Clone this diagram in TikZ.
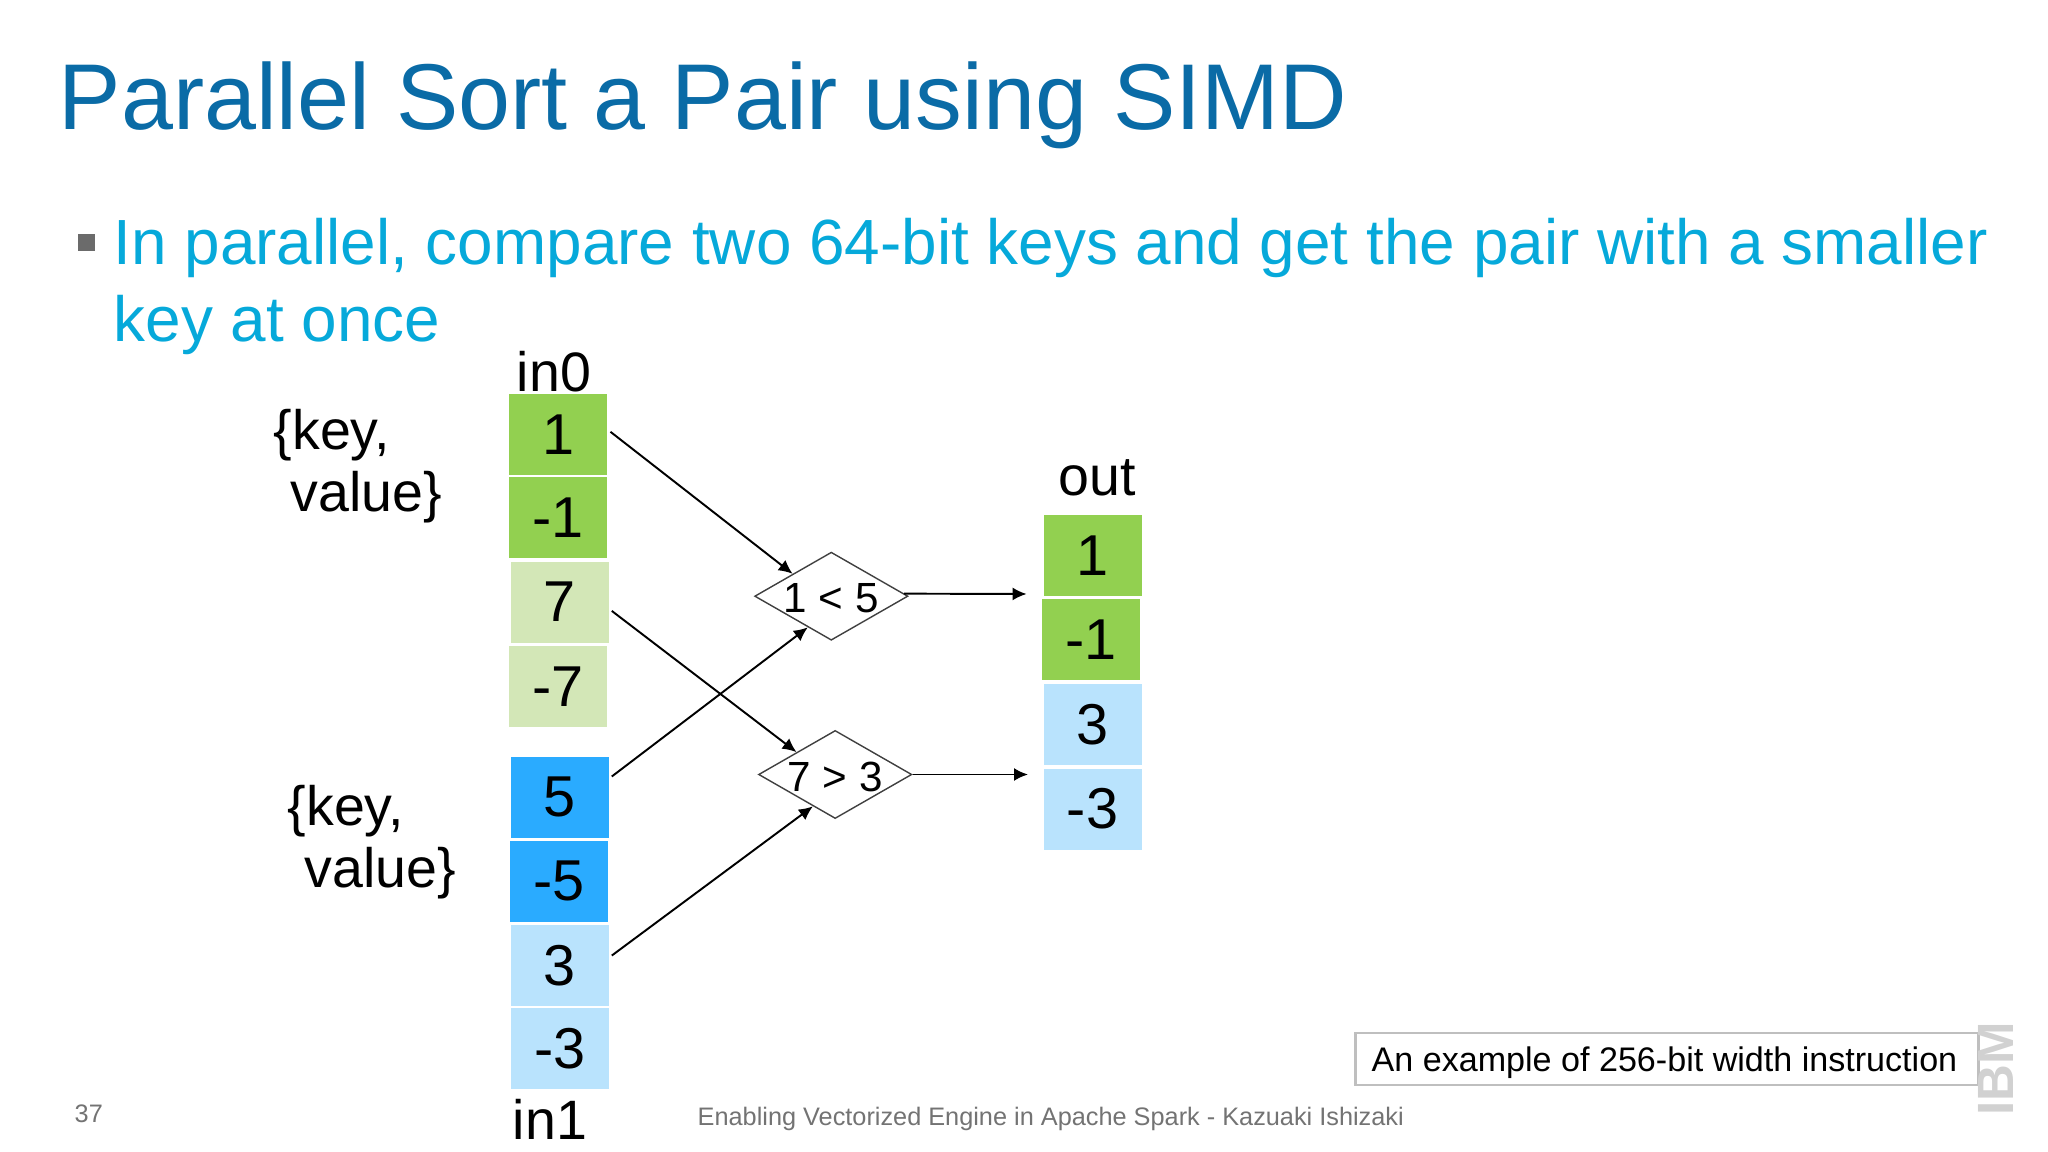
\documentclass[tikz,border=0pt]{standalone}
\usepackage{fontspec}
\setmainfont{Liberation Sans}
\usepackage{tikz}
\usetikzlibrary{arrows.meta,calc,positioning,shapes.geometric}
\definecolor{titleblue}{HTML}{0A6BA6}
\definecolor{bulletblue}{HTML}{06A9DA}
\definecolor{keygreen}{HTML}{92D050}
\definecolor{palegreen}{HTML}{D3E7B7}
\definecolor{keyblue}{HTML}{2AABFF}
\definecolor{paleblue}{HTML}{B9E3FD}

\begin{document}
\begin{tikzpicture}[
    x=1cm,
    y=1cm,
    cell/.style={minimum width=0.98cm, minimum height=0.81cm, inner sep=0pt, font=\fontsize{16.4}{18}\selectfont},
    cmp/.style={draw=black!75, shape=diamond, aspect=1.74, minimum width=1.53cm, minimum height=0.88cm, inner sep=0pt, text height=0.335cm, text depth=0cm, font=\fontsize{12}{14}\selectfont},
    lbl/.style={inner sep=0pt, font=\fontsize{15.8}{17.6}\selectfont},
    line/.style={-{Latex[length=1.4mm,width=1.3mm]}, line width=0.55pt}
]
\useasboundingbox (0,0) rectangle (20.48,-11.52);
\node[anchor=base west, inner sep=0pt, text=titleblue, font=\fontsize{26.6}{30}\selectfont] (title) at (0.58,-1.30) {Parallel Sort a Pair using SIMD};
\node[fill=black!58, minimum size=0.17cm, inner sep=0pt] (bullet) at (0.865,-2.43) {};
\node[anchor=base west, inner sep=0pt, align=left, text=bulletblue, font=\fontsize{18.17}{22}\selectfont] (point) at (1.13,-3.415) {In parallel, compare two 64-bit keys and get the pair with a smaller\\key at once};

\node[lbl] (in0) at (5.54,-3.72) {in0};
\node[lbl] (in1) at (5.50,-11.19) {in1};
\node[lbl] (out) at (10.97,-4.78) {out};
\node[lbl, anchor=west, align=left] (pair0) at (2.73,-4.66) {\{key,\\\hspace{0.17cm}value\}};
\node[lbl, anchor=west, align=left] (pair1) at (2.87,-8.42) {\{key,\\\hspace{0.17cm}value\}};

\node[cell, fill=keygreen] (in0a) at (5.584,-4.343) {1};
\node[cell, fill=keygreen] (in0b) at (5.584,-5.179) {-1};
\node[cell, fill=palegreen] (in0c) at (5.597,-6.021) {7};
\node[cell, fill=palegreen] (in0d) at (5.584,-6.864) {-7};
\node[cell, fill=keyblue] (in1a) at (5.597,-7.974) {5};
\node[cell, fill=keyblue] (in1b) at (5.59,-8.81) {-5};
\node[cell, fill=paleblue] (in1c) at (5.597,-9.652) {3};
\node[cell, fill=paleblue] (in1d) at (5.597,-10.488) {-3};

\node[cell, fill=keygreen] (outa) at (10.926,-5.557) {1};
\node[cell, fill=keygreen] (outb) at (10.912,-6.40) {-1};
\node[cell, fill=paleblue] (outc) at (10.926,-7.249) {3};
\node[cell, fill=paleblue] (outd) at (10.926,-8.091) {-3};

\node[cmp] (cmpa) at (8.313,-5.962) {1 < 5};
\node[cmp] (cmpb) at (8.352,-7.745) {7 > 3};
\coordinate (enda) at (10.266,-5.94);
\coordinate (endb) at (10.28,-7.745);

\draw[line, shorten <=0.03cm] (in0a.5) -- (cmpa.north west);
\draw[line, shorten <=0.03cm] (in0c.-8) -- (cmpb.north west);
\draw[line, shorten <=0.03cm] (in1a.21) -- (cmpa.233);
\draw[line, shorten <=0.03cm] (in1c.9) -- (cmpb.235);
\draw[line] (cmpa.2) -- (enda);
\draw[line] (cmpb.east) -- (endb);

\node[draw=black!25, line width=0.6pt, minimum width=6.23cm, minimum height=0.52cm, inner sep=0pt, text height=0.29cm, text depth=0.04cm, font=\fontsize{9.7}{11}\selectfont] (note) at (16.67,-10.59) {\hspace{-0.05cm}An example of 256-bit width instruction};
\node[anchor=west, inner sep=0pt, text=black!55, font=\fontsize{7.2}{9}\selectfont] (page) at (0.74,-11.14) {37};
\node[anchor=west, inner sep=0pt, text=black!55, font=\fontsize{7.2}{9}\selectfont] (footer) at (6.97,-11.19) {Enabling Vectorized Engine in Apache Spark - Kazuaki Ishizaki};
\node[rotate=90, inner sep=0pt, text=black!18, font=\fontsize{14.5}{16}\selectfont\bfseries] (logo) at (19.96,-10.69) {IBM};
\end{tikzpicture}
\end{document}
